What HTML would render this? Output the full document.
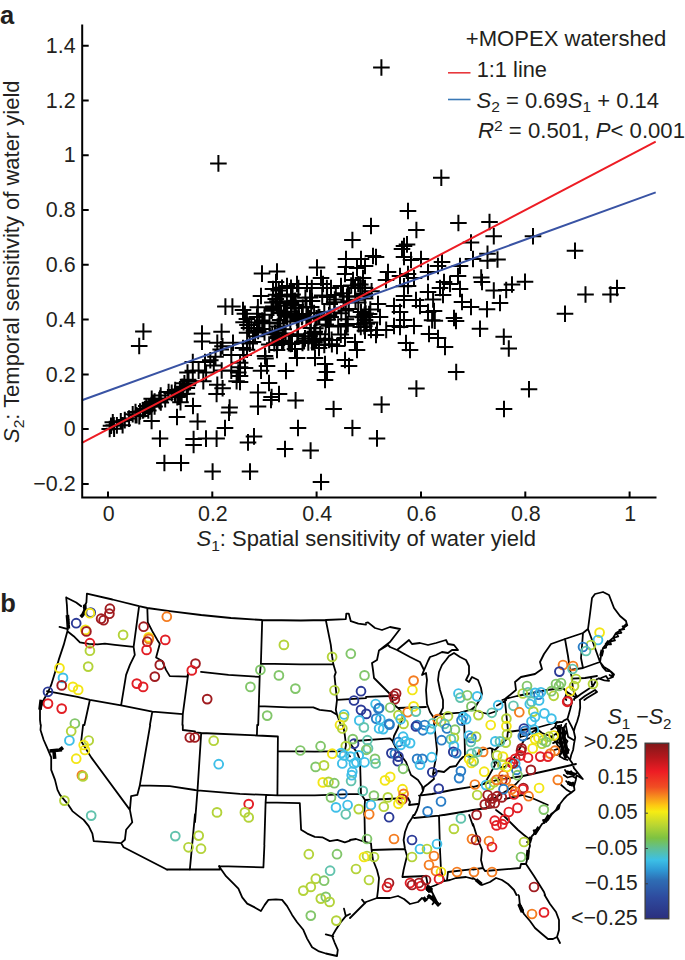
<!DOCTYPE html>
<html><head><meta charset="utf-8"><title>Figure</title>
<style>html,body{margin:0;padding:0;background:#fff}svg{display:block}text{font-family:"Liberation Sans",Arial,Helvetica,sans-serif;fill:#231f20}</style>
</head><body>
<svg width="685" height="960" viewBox="0 0 685 960">
<rect width="685" height="960" fill="#fff"/>
<text x="0" y="23.9" font-size="25.5" font-weight="bold">a</text>
<path d="M210.1 163.4h16.6M218.4 155.1v16.6M373.1 67.5h16.6M381.4 59.2v16.6M433.0 177.8h16.6M441.3 169.5v16.6M135.1 331.6h16.6M143.4 323.3v16.6M130.9 346.0h16.6M139.2 337.7v16.6M217.1 306.6h16.6M225.4 298.3v16.6M224.1 306.6h16.6M232.4 298.3v16.6M193.7 333.6h16.6M202.0 325.3v16.6M193.7 341.6h16.6M202.0 333.3v16.6M151.7 438.6h16.6M160.0 430.3v16.6M156.1 463.0h16.6M164.4 454.7v16.6M172.7 463.0h16.6M181.0 454.7v16.6M204.3 471.6h16.6M212.6 463.3v16.6M185.3 439.0h16.6M193.6 430.7v16.6M185.3 445.0h16.6M193.6 436.7v16.6M197.7 438.6h16.6M206.0 430.3v16.6M208.3 438.6h16.6M216.6 430.3v16.6M216.7 428.0h16.6M225.0 419.7v16.6M189.3 421.6h16.6M197.6 413.3v16.6M220.7 412.6h16.6M229.0 404.3v16.6M184.7 406.0h16.6M193.0 397.7v16.6M168.7 417.0h16.6M177.0 408.7v16.6M143.3 421.0h16.6M151.6 412.7v16.6M208.3 394.0h16.6M216.6 385.7v16.6M249.7 392.4h16.6M258.0 384.1v16.6M249.7 406.6h16.6M258.0 398.3v16.6M260.7 383.0h16.6M269.0 374.7v16.6M262.7 400.0h16.6M271.0 391.7v16.6M270.7 394.0h16.6M279.0 385.7v16.6M287.3 400.4h16.6M295.6 392.1v16.6M325.3 409.0h16.6M333.6 400.7v16.6M289.7 428.0h16.6M298.0 419.7v16.6M344.1 428.0h16.6M352.4 419.7v16.6M245.7 436.4h16.6M254.0 428.1v16.6M239.7 442.4h16.6M248.0 434.1v16.6M276.7 449.0h16.6M285.0 440.7v16.6M302.3 450.6h16.6M310.6 442.3v16.6M241.7 471.6h16.6M250.0 463.3v16.6M312.7 482.0h16.6M321.0 473.7v16.6M231.7 382.0h16.6M240.0 373.7v16.6M316.7 380.0h16.6M325.0 371.7v16.6M373.3 404.6h16.6M381.6 396.3v16.6M368.7 438.4h16.6M377.0 430.1v16.6M408.1 388.6h16.6M416.4 380.3v16.6M495.7 409.0h16.6M504.0 400.7v16.6M481.2 222.0h16.6M489.5 213.7v16.6M485.4 236.2h16.6M493.8 227.9v16.6M524.7 236.2h16.6M533.0 227.9v16.6M566.7 250.8h16.6M575.0 242.4v16.6M479.2 253.8h16.6M487.5 245.4v16.6M479.2 260.8h16.6M487.5 252.4v16.6M489.2 259.5h16.6M497.5 251.2v16.6M472.9 277.5h16.6M481.2 269.2v16.6M516.7 281.8h16.6M525.0 273.4v16.6M503.7 284.5h16.6M512.0 276.2v16.6M497.9 290.0h16.6M506.2 281.7v16.6M485.4 290.5h16.6M493.8 282.2v16.6M491.7 303.0h16.6M500.0 294.7v16.6M478.7 309.2h16.6M487.0 300.9v16.6M577.2 294.5h16.6M585.5 286.2v16.6M602.2 294.5h16.6M610.5 286.2v16.6M608.7 288.0h16.6M617.0 279.7v16.6M556.7 313.8h16.6M565.0 305.4v16.6M495.4 336.8h16.6M503.8 328.4v16.6M500.4 348.5h16.6M508.8 340.2v16.6M471.7 328.8h16.6M480.0 320.4v16.6M436.7 347.0h16.6M445.0 338.7v16.6M447.9 372.0h16.6M456.2 363.7v16.6M520.7 389.2h16.6M529.0 380.9v16.6M362.7 226.0h16.6M371.0 217.7v16.6M344.1 240.0h16.6M352.4 231.7v16.6M308.7 267.6h16.6M317.0 259.3v16.6M253.7 273.6h16.6M262.0 265.3v16.6M268.7 271.6h16.6M277.0 263.3v16.6M337.7 259.0h16.6M346.0 250.7v16.6M352.7 259.0h16.6M361.0 250.7v16.6M337.7 267.0h16.6M346.0 258.7v16.6M348.7 268.0h16.6M357.0 259.7v16.6M356.7 266.0h16.6M365.0 257.7v16.6M364.7 256.0h16.6M373.0 247.7v16.6M336.7 274.0h16.6M345.0 265.7v16.6M312.7 278.0h16.6M321.0 269.7v16.6M252.7 296.0h16.6M261.0 287.7v16.6M264.7 289.0h16.6M273.0 280.7v16.6M267.7 282.0h16.6M276.0 273.7v16.6M278.7 286.0h16.6M287.0 277.7v16.6M288.7 284.0h16.6M297.0 275.7v16.6M298.7 284.0h16.6M307.0 275.7v16.6M314.7 284.0h16.6M323.0 275.7v16.6M322.7 288.0h16.6M331.0 279.7v16.6M332.7 286.0h16.6M341.0 277.7v16.6M344.7 280.0h16.6M353.0 271.7v16.6M354.7 278.0h16.6M363.0 269.7v16.6M346.7 288.0h16.6M355.0 279.7v16.6M356.7 288.0h16.6M365.0 279.7v16.6M399.7 211.0h16.6M408.0 202.7v16.6M408.1 230.0h16.6M416.4 221.7v16.6M450.1 223.0h16.6M458.4 214.7v16.6M462.7 242.6h16.6M471.0 234.3v16.6M398.7 244.4h16.6M407.0 236.1v16.6M393.7 249.0h16.6M402.0 240.7v16.6M395.7 246.0h16.6M404.0 237.7v16.6M367.7 257.0h16.6M376.0 248.7v16.6M464.7 259.0h16.6M473.0 250.7v16.6M412.7 259.0h16.6M421.0 250.7v16.6M402.7 260.0h16.6M411.0 251.7v16.6M395.7 257.0h16.6M404.0 248.7v16.6M433.7 262.0h16.6M442.0 253.7v16.6M451.7 266.0h16.6M460.0 257.7v16.6M429.7 266.0h16.6M438.0 257.7v16.6M379.7 272.0h16.6M388.0 263.7v16.6M419.7 272.0h16.6M428.0 263.7v16.6M391.7 276.0h16.6M400.0 267.7v16.6M399.7 274.0h16.6M408.0 265.7v16.6M405.7 278.0h16.6M414.0 269.7v16.6M399.7 286.0h16.6M408.0 277.7v16.6M435.7 282.0h16.6M444.0 273.7v16.6M441.7 284.0h16.6M450.0 275.7v16.6M449.7 276.0h16.6M458.0 267.7v16.6M431.7 288.0h16.6M440.0 279.7v16.6M451.7 289.0h16.6M460.0 280.7v16.6M419.7 292.0h16.6M428.0 283.7v16.6M395.7 296.0h16.6M404.0 287.7v16.6M377.7 280.0h16.6M386.0 271.7v16.6M234.7 310.0h16.6M243.0 301.7v16.6M248.7 317.0h16.6M257.0 308.7v16.6M240.7 328.0h16.6M249.0 319.7v16.6M248.7 328.0h16.6M257.0 319.7v16.6M234.7 348.0h16.6M243.0 339.7v16.6M244.7 342.0h16.6M253.0 333.7v16.6M256.7 356.0h16.6M265.0 347.7v16.6M258.7 366.0h16.6M267.0 357.7v16.6M236.7 368.0h16.6M245.0 359.7v16.6M231.7 376.0h16.6M240.0 367.7v16.6M277.7 371.0h16.6M286.0 362.7v16.6M288.7 358.0h16.6M297.0 349.7v16.6M286.7 349.0h16.6M295.0 340.7v16.6M268.7 350.0h16.6M277.0 341.7v16.6M306.7 358.0h16.6M315.0 349.7v16.6M316.7 364.0h16.6M325.0 355.7v16.6M318.7 372.0h16.6M327.0 363.7v16.6M336.7 360.0h16.6M345.0 351.7v16.6M340.7 366.0h16.6M349.0 357.7v16.6M348.7 350.0h16.6M357.0 341.7v16.6M346.7 342.0h16.6M355.0 333.7v16.6M356.7 320.0h16.6M365.0 311.7v16.6M352.7 312.0h16.6M361.0 303.7v16.6M362.7 330.0h16.6M371.0 321.7v16.6M328.7 346.0h16.6M337.0 337.7v16.6M310.7 348.0h16.6M319.0 339.7v16.6M320.7 340.0h16.6M329.0 331.7v16.6M336.7 338.0h16.6M345.0 329.7v16.6M462.7 307.0h16.6M471.0 298.7v16.6M453.7 302.0h16.6M462.0 293.7v16.6M445.7 318.0h16.6M454.0 309.7v16.6M447.7 321.0h16.6M456.0 312.7v16.6M429.7 338.0h16.6M438.0 329.7v16.6M420.7 334.0h16.6M429.0 325.7v16.6M401.7 350.0h16.6M410.0 341.7v16.6M397.7 343.0h16.6M406.0 334.7v16.6M425.7 311.0h16.6M434.0 302.7v16.6M419.7 312.0h16.6M428.0 303.7v16.6M411.7 306.0h16.6M420.0 297.7v16.6M407.7 300.0h16.6M416.0 291.7v16.6M395.7 300.0h16.6M404.0 291.7v16.6M385.7 306.0h16.6M394.0 297.7v16.6M391.7 312.0h16.6M400.0 303.7v16.6M405.7 326.0h16.6M414.0 317.7v16.6M391.7 327.0h16.6M400.0 318.7v16.6M385.7 326.0h16.6M394.0 317.7v16.6M395.7 320.0h16.6M404.0 311.7v16.6M369.7 304.0h16.6M378.0 295.7v16.6M371.7 317.0h16.6M380.0 308.7v16.6M368.7 330.0h16.6M377.0 321.7v16.6M367.7 335.0h16.6M376.0 326.7v16.6M434.7 295.0h16.6M443.0 286.7v16.6M473.7 282.0h16.6M482.0 273.7v16.6M209.0 342.8h16.6M217.3 334.5v16.6M214.2 346.3h16.6M222.5 338.0v16.6M224.7 342.8h16.6M233.0 334.5v16.6M245.7 330.5h16.6M254.0 322.2v16.6M270.3 323.5h16.6M278.6 315.2v16.6M179.2 372.6h16.6M187.5 364.3v16.6M184.5 370.8h16.6M192.8 362.5v16.6M184.5 362.0h16.6M192.8 353.7v16.6M196.7 362.0h16.6M205.0 353.7v16.6M202.0 360.3h16.6M210.3 352.0v16.6M207.2 356.8h16.6M215.5 348.5v16.6M205.5 365.5h16.6M213.8 357.2v16.6M223.0 370.8h16.6M231.3 362.5v16.6M230.0 372.6h16.6M238.3 364.3v16.6M231.7 367.3h16.6M240.0 359.0v16.6M235.3 355.0h16.6M243.6 346.7v16.6M238.7 349.8h16.6M247.0 341.5v16.6M223.0 355.0h16.6M231.3 346.7v16.6M209.0 384.8h16.6M217.3 376.5v16.6M214.3 388.3h16.6M222.6 380.0v16.6M195.0 381.3h16.6M203.3 373.0v16.6M228.3 381.3h16.6M236.6 373.0v16.6M252.7 370.8h16.6M261.0 362.5v16.6M257.2 358.5h16.6M265.5 350.2v16.6M263.3 397.0h16.6M271.6 388.7v16.6M221.3 407.6h16.6M229.6 399.3v16.6M166.7 393.6h16.6M175.0 385.3v16.6M172.2 402.3h16.6M180.5 394.0v16.6M112.5 421.2h16.6M120.8 412.9v16.6M102.7 425.8h16.6M111.0 417.5v16.6M120.8 418.6h16.6M129.1 410.3v16.6M101.4 429.0h16.6M109.7 420.7v16.6M116.5 420.1h16.6M124.8 411.8v16.6M108.6 425.4h16.6M116.9 417.1v16.6M124.4 414.3h16.6M132.7 406.0v16.6M138.0 406.0h16.6M146.3 397.7v16.6M105.5 425.2h16.6M113.8 416.9v16.6M131.7 411.5h16.6M140.0 403.2v16.6M127.2 412.1h16.6M135.5 403.8v16.6M128.3 415.3h16.6M136.6 407.0v16.6M104.5 422.3h16.6M112.8 414.0v16.6M136.7 409.0h16.6M145.0 400.7v16.6M127.3 415.3h16.6M135.6 407.0v16.6M134.4 410.4h16.6M142.7 402.1v16.6M105.8 428.8h16.6M114.1 420.5v16.6M114.3 425.3h16.6M122.6 417.0v16.6M135.0 410.1h16.6M143.3 401.8v16.6M131.0 416.1h16.6M139.3 407.8v16.6M143.5 404.0h16.6M151.8 395.7v16.6M151.3 400.7h16.6M159.6 392.4v16.6M143.0 405.1h16.6M151.3 396.8v16.6M140.8 406.8h16.6M149.1 398.5v16.6M174.9 387.8h16.6M183.2 379.5v16.6M163.4 392.9h16.6M171.7 384.6v16.6M151.7 398.6h16.6M160.0 390.3v16.6M152.4 395.6h16.6M160.7 387.3v16.6M180.2 381.1h16.6M188.5 372.8v16.6M156.9 399.2h16.6M165.2 390.9v16.6M140.8 406.1h16.6M149.1 397.8v16.6M151.4 401.3h16.6M159.7 393.0v16.6M143.4 398.8h16.6M151.7 390.5v16.6M142.8 406.5h16.6M151.1 398.2v16.6M160.3 392.1h16.6M168.6 383.8v16.6M179.5 385.2h16.6M187.8 376.9v16.6M174.5 389.4h16.6M182.8 381.1v16.6M152.5 402.5h16.6M160.8 394.2v16.6M143.7 404.2h16.6M152.0 395.9v16.6M170.7 394.6h16.6M179.0 386.3v16.6M150.9 400.0h16.6M159.2 391.7v16.6M179.8 379.8h16.6M188.1 371.5v16.6M174.0 386.7h16.6M182.3 378.4v16.6M169.0 397.1h16.6M177.3 388.8v16.6M146.3 406.5h16.6M154.6 398.2v16.6M166.9 390.1h16.6M175.2 381.8v16.6M178.6 393.7h16.6M186.9 385.4v16.6M180.0 383.2h16.6M188.3 374.9v16.6M178.5 388.0h16.6M186.8 379.7v16.6M146.3 401.6h16.6M154.6 393.3v16.6M145.0 402.8h16.6M153.3 394.5v16.6M176.1 383.3h16.6M184.4 375.0v16.6M173.4 393.9h16.6M181.7 385.6v16.6M171.6 389.4h16.6M179.9 381.1v16.6M140.0 410.5h16.6M148.3 402.2v16.6M170.9 396.6h16.6M179.2 388.3v16.6M320.7 315.2h16.6M329.0 306.9v16.6M277.3 333.6h16.6M285.6 325.3v16.6M289.0 334.2h16.6M297.3 325.9v16.6M337.5 310.4h16.6M345.8 302.1v16.6M294.2 342.9h16.6M302.5 334.6v16.6M318.8 297.0h16.6M327.1 288.7v16.6M273.4 295.9h16.6M281.7 287.6v16.6M332.5 334.6h16.6M340.8 326.3v16.6M274.8 335.8h16.6M283.1 327.5v16.6M338.2 325.8h16.6M346.5 317.5v16.6M290.3 319.4h16.6M298.6 311.1v16.6M273.7 287.8h16.6M282.0 279.5v16.6M337.5 325.3h16.6M345.8 317.0v16.6M303.7 342.1h16.6M312.0 333.8v16.6M296.7 338.4h16.6M305.0 330.1v16.6M326.5 299.5h16.6M334.8 291.2v16.6M282.8 304.3h16.6M291.1 296.0v16.6M282.0 321.6h16.6M290.3 313.3v16.6M283.4 311.7h16.6M291.7 303.4v16.6M273.7 340.7h16.6M282.0 332.4v16.6M290.6 314.0h16.6M298.9 305.7v16.6M308.0 340.4h16.6M316.3 332.1v16.6M295.7 341.1h16.6M304.0 332.8v16.6M301.8 318.4h16.6M310.1 310.1v16.6M303.5 288.1h16.6M311.8 279.8v16.6M297.1 297.8h16.6M305.4 289.5v16.6M264.0 334.2h16.6M272.3 325.9v16.6M276.8 314.9h16.6M285.1 306.6v16.6M318.8 319.8h16.6M327.1 311.5v16.6M288.5 317.6h16.6M296.8 309.3v16.6M305.9 333.3h16.6M314.2 325.0v16.6M271.8 320.1h16.6M280.1 311.8v16.6M282.6 303.3h16.6M290.9 295.0v16.6M322.4 317.0h16.6M330.7 308.7v16.6M306.4 331.8h16.6M314.7 323.5v16.6M333.0 313.2h16.6M341.3 304.9v16.6M310.3 316.8h16.6M318.6 308.5v16.6M302.6 327.9h16.6M310.9 319.6v16.6M298.1 318.5h16.6M306.4 310.2v16.6M300.0 342.5h16.6M308.3 334.2v16.6M316.8 338.7h16.6M325.1 330.4v16.6M335.3 302.3h16.6M343.6 294.0v16.6M306.2 342.7h16.6M314.5 334.4v16.6M327.5 295.1h16.6M335.8 286.8v16.6M272.9 313.1h16.6M281.2 304.8v16.6M269.2 301.2h16.6M277.5 292.9v16.6M269.3 326.5h16.6M277.6 318.2v16.6M323.3 339.9h16.6M331.6 331.6v16.6M275.4 329.3h16.6M283.7 321.0v16.6M313.9 295.4h16.6M322.2 287.1v16.6M280.4 343.2h16.6M288.7 334.9v16.6M294.0 315.7h16.6M302.3 307.4v16.6M276.0 312.5h16.6M284.3 304.2v16.6M302.9 307.0h16.6M311.2 298.7v16.6M278.6 305.8h16.6M286.9 297.5v16.6M318.6 288.1h16.6M326.9 279.8v16.6M305.8 313.0h16.6M314.1 304.7v16.6M265.1 306.6h16.6M273.4 298.3v16.6M311.1 317.2h16.6M319.4 308.9v16.6M268.6 345.1h16.6M276.9 336.8v16.6M323.6 344.3h16.6M331.9 336.0v16.6M271.7 302.7h16.6M280.0 294.4v16.6M266.7 333.0h16.6M275.0 324.7v16.6M284.3 294.6h16.6M292.6 286.3v16.6M295.8 340.8h16.6M304.1 332.5v16.6M325.9 302.3h16.6M334.2 294.0v16.6M275.1 341.2h16.6M283.4 332.9v16.6M307.1 328.3h16.6M315.4 320.0v16.6M270.5 290.4h16.6M278.8 282.1v16.6M316.0 312.1h16.6M324.3 303.8v16.6M269.2 342.4h16.6M277.5 334.1v16.6M311.9 334.3h16.6M320.2 326.0v16.6M270.1 337.5h16.6M278.4 329.2v16.6M268.8 337.9h16.6M277.1 329.6v16.6M298.2 307.0h16.6M306.5 298.7v16.6M305.7 341.7h16.6M314.0 333.4v16.6M284.1 294.6h16.6M292.4 286.3v16.6M303.7 301.1h16.6M312.0 292.8v16.6M272.0 296.5h16.6M280.3 288.2v16.6M267.5 298.9h16.6M275.8 290.6v16.6M287.4 305.0h16.6M295.7 296.7v16.6M321.4 304.1h16.6M329.7 295.8v16.6M301.7 297.5h16.6M310.0 289.2v16.6M290.1 288.1h16.6M298.4 279.8v16.6M282.7 287.9h16.6M291.0 279.6v16.6M319.4 319.5h16.6M327.7 311.2v16.6M278.1 315.0h16.6M286.4 306.7v16.6M334.7 293.3h16.6M343.0 285.0v16.6M325.9 312.5h16.6M334.2 304.2v16.6M301.3 336.2h16.6M309.6 327.9v16.6M293.6 316.9h16.6M301.9 308.6v16.6M316.0 345.0h16.6M324.3 336.7v16.6M289.7 336.1h16.6M298.0 327.8v16.6M317.4 324.5h16.6M325.7 316.2v16.6M294.5 307.5h16.6M302.8 299.2v16.6M267.8 294.7h16.6M276.1 286.4v16.6M269.1 330.7h16.6M277.4 322.4v16.6M283.1 296.6h16.6M291.4 288.3v16.6M270.1 336.6h16.6M278.4 328.3v16.6M329.9 326.6h16.6M338.2 318.3v16.6M285.1 301.3h16.6M293.4 293.0v16.6M286.0 314.1h16.6M294.3 305.8v16.6M275.7 313.3h16.6M284.0 305.0v16.6M283.7 343.7h16.6M292.0 335.4v16.6M337.6 319.3h16.6M345.9 311.0v16.6M282.3 344.0h16.6M290.6 335.7v16.6M287.2 308.0h16.6M295.5 299.7v16.6M263.8 309.5h16.6M272.1 301.2v16.6M299.8 316.7h16.6M308.1 308.4v16.6M279.0 316.8h16.6M287.3 308.5v16.6M264.1 302.6h16.6M272.4 294.3v16.6M270.5 310.6h16.6M278.8 302.3v16.6M286.8 300.7h16.6M295.1 292.4v16.6M308.2 318.2h16.6M316.5 309.9v16.6M320.7 325.8h16.6M329.0 317.5v16.6M356.0 326.2h16.6M364.3 317.9v16.6M347.2 299.7h16.6M355.5 291.4v16.6M363.3 291.2h16.6M371.6 282.9v16.6M356.3 314.9h16.6M364.6 306.6v16.6M337.9 324.1h16.6M346.2 315.8v16.6M360.8 314.1h16.6M369.1 305.8v16.6M356.5 323.0h16.6M364.8 314.7v16.6M340.5 309.1h16.6M348.8 300.8v16.6M350.3 324.1h16.6M358.6 315.8v16.6M358.4 323.7h16.6M366.7 315.4v16.6M352.5 326.9h16.6M360.8 318.6v16.6M355.1 317.3h16.6M363.4 309.0v16.6M342.9 285.5h16.6M351.2 277.2v16.6M340.3 301.3h16.6M348.6 293.0v16.6M339.5 324.1h16.6M347.8 315.8v16.6M353.6 316.7h16.6M361.9 308.4v16.6M349.9 284.2h16.6M358.2 275.9v16.6M356.6 296.1h16.6M364.9 287.8v16.6M338.7 296.7h16.6M347.0 288.4v16.6M356.4 293.9h16.6M364.7 285.6v16.6M356.7 330.8h16.6M365.0 322.5v16.6M350.0 302.4h16.6M358.3 294.1v16.6M349.6 316.8h16.6M357.9 308.5v16.6M357.4 313.6h16.6M365.7 305.3v16.6M354.1 287.7h16.6M362.4 279.4v16.6M340.7 296.2h16.6M349.0 287.9v16.6M356.8 298.6h16.6M365.1 290.3v16.6M352.0 284.6h16.6M360.3 276.3v16.6M236.6 313.8h16.6M244.9 305.5v16.6M256.2 332.5h16.6M264.5 324.2v16.6M256.3 314.8h16.6M264.6 306.5v16.6M251.2 322.4h16.6M259.5 314.1v16.6M249.6 307.2h16.6M257.9 298.9v16.6M263.3 310.8h16.6M271.6 302.5v16.6M266.0 343.2h16.6M274.3 334.9v16.6M235.3 322.2h16.6M243.6 313.9v16.6M260.9 344.6h16.6M269.2 336.3v16.6M249.1 313.8h16.6M257.4 305.5v16.6M241.4 343.6h16.6M249.7 335.3v16.6M239.2 325.1h16.6M247.5 316.8v16.6M265.2 307.8h16.6M273.5 299.5v16.6M423.8 320.2h16.6M432.1 311.9v16.6M377.9 329.9h16.6M386.2 321.6v16.6M395.7 286.2h16.6M404.0 277.9v16.6M362.0 309.6h16.6M370.3 301.3v16.6M361.8 322.5h16.6M370.1 314.2v16.6M426.5 320.7h16.6M434.8 312.4v16.6M424.8 299.5h16.6M433.1 291.2v16.6M213.3 331.7h16.6M221.6 323.4v16.6M231.8 362.7h16.6M240.1 354.4v16.6M212.4 349.4h16.6M220.7 341.1v16.6M190.3 370.6h16.6M198.6 362.3v16.6M261.2 322.6h16.6M269.5 314.3v16.6M197.8 372.6h16.6M206.1 364.3v16.6M213.4 370.5h16.6M221.7 362.2v16.6M246.8 336.3h16.6M255.1 328.0v16.6M254.3 329.0h16.6M262.6 320.7v16.6M249.8 330.9h16.6M258.1 322.6v16.6M238.6 319.0h16.6M246.9 310.7v16.6M253.9 320.5h16.6M262.2 312.2v16.6M243.0 324.9h16.6M251.3 316.6v16.6M238.8 332.8h16.6M247.1 324.5v16.6M255.1 323.2h16.6M263.4 314.9v16.6" stroke="#000" stroke-width="2" fill="none"/>
<line x1="81.9" y1="400.3" x2="655.7" y2="192.4" stroke="#3953a4" stroke-width="2"/>
<line x1="81.9" y1="442.8" x2="655.7" y2="141.6" stroke="#ed1c24" stroke-width="2"/>
<path d="M82.2 24.5V497.4H656.5M82.2 483.9h6.5M82.2 429.1h6.5M82.2 374.4h6.5M82.2 319.6h6.5M82.2 264.8h6.5M82.2 210.0h6.5M82.2 155.2h6.5M82.2 100.5h6.5M82.2 45.7h6.5M108.0 497.4v-6M212.3 497.4v-6M316.6 497.4v-6M421.0 497.4v-6M525.3 497.4v-6M629.6 497.4v-6" stroke="#000" stroke-width="2" fill="none"/>
<text x="75.6" y="491.0" font-size="21.2" text-anchor="end" textLength="42.4" lengthAdjust="spacingAndGlyphs">−0.2</text>
<text x="75.6" y="436.2" font-size="21.2" text-anchor="end" textLength="11.9" lengthAdjust="spacingAndGlyphs">0</text>
<text x="75.6" y="381.5" font-size="21.2" text-anchor="end" textLength="29.8" lengthAdjust="spacingAndGlyphs">0.2</text>
<text x="75.6" y="326.7" font-size="21.2" text-anchor="end" textLength="29.8" lengthAdjust="spacingAndGlyphs">0.4</text>
<text x="75.6" y="271.9" font-size="21.2" text-anchor="end" textLength="29.8" lengthAdjust="spacingAndGlyphs">0.6</text>
<text x="75.6" y="217.1" font-size="21.2" text-anchor="end" textLength="29.8" lengthAdjust="spacingAndGlyphs">0.8</text>
<text x="75.6" y="162.3" font-size="21.2" text-anchor="end" textLength="11.9" lengthAdjust="spacingAndGlyphs">1</text>
<text x="75.6" y="107.6" font-size="21.2" text-anchor="end" textLength="29.8" lengthAdjust="spacingAndGlyphs">1.2</text>
<text x="75.6" y="52.8" font-size="21.2" text-anchor="end" textLength="29.8" lengthAdjust="spacingAndGlyphs">1.4</text>
<text x="108.6" y="521" font-size="21.2" text-anchor="middle" textLength="11.9" lengthAdjust="spacingAndGlyphs">0</text>
<text x="212.9" y="521" font-size="21.2" text-anchor="middle" textLength="29.8" lengthAdjust="spacingAndGlyphs">0.2</text>
<text x="317.2" y="521" font-size="21.2" text-anchor="middle" textLength="29.8" lengthAdjust="spacingAndGlyphs">0.4</text>
<text x="421.6" y="521" font-size="21.2" text-anchor="middle" textLength="29.8" lengthAdjust="spacingAndGlyphs">0.6</text>
<text x="525.9" y="521" font-size="21.2" text-anchor="middle" textLength="29.8" lengthAdjust="spacingAndGlyphs">0.8</text>
<text x="630.2" y="521" font-size="21.2" text-anchor="middle" textLength="11.9" lengthAdjust="spacingAndGlyphs">1</text>
<text x="196.5" y="546.3" font-size="21.2" textLength="339.5" lengthAdjust="spacingAndGlyphs"><tspan font-style="italic">S</tspan><tspan font-size="15" dy="4.8">1</tspan><tspan dy="-4.8">: Spatial sensitivity of water yield</tspan></text>
<text transform="translate(18.7 443) rotate(-90)" font-size="21.2" textLength="362.5" lengthAdjust="spacingAndGlyphs"><tspan font-style="italic">S</tspan><tspan font-size="15" dy="4.8">2</tspan><tspan dy="-4.8">: Temporal sensitivity of water yield</tspan></text>
<text x="465.8" y="46.3" font-size="21.2" textLength="200.5" lengthAdjust="spacingAndGlyphs">+MOPEX watershed</text>
<line x1="448" y1="72.8" x2="470.5" y2="72.8" stroke="#e8383d" stroke-width="1.6"/>
<text x="476.7" y="77.2" font-size="21.2" textLength="70.3" lengthAdjust="spacingAndGlyphs">1:1 line</text>
<line x1="448" y1="99.5" x2="470.5" y2="99.5" stroke="#3a78b6" stroke-width="1.6"/>
<text x="476.5" y="107.6" font-size="21.2" textLength="182.5" lengthAdjust="spacingAndGlyphs"><tspan font-style="italic">S</tspan><tspan font-size="15" dy="4.8">2</tspan><tspan dy="-4.8"> = 0.69</tspan><tspan font-style="italic">S</tspan><tspan font-size="15" dy="4.8">1</tspan><tspan dy="-4.8"> + 0.14</tspan></text>
<text x="478" y="138" font-size="21.2" textLength="207" lengthAdjust="spacingAndGlyphs"><tspan font-style="italic">R</tspan><tspan font-size="15" dy="-7.5">2</tspan><tspan dy="7.5"> = 0.501, </tspan><tspan font-style="italic">P</tspan>&lt; 0.001</text>
<text x="0.3" y="612" font-size="25.5" font-weight="bold">b</text>
<path d="M86.9 593.7L112.4 599.5L139.1 606.2L147.3 608.0L169.8 611.2L201.0 615.0M86.9 593.7L86.4 602.5L83.7 607.5M66.2 597.5L76.2 602.5L81.2 606.2M66.2 597.5L66.9 605.0L67.4 615.0L68.2 624.9L67.4 631.2L63.7 644.9L58.7 659.9L55.0 672.4L51.2 684.9L48.0 692.3L43.7 699.8L40.0 709.8L40.0 719.8L40.6 725.0M59.5 626.9L67.9 629.2M67.4 631.2L73.7 636.2L79.9 642.4L88.7 643.9L97.4 644.4L104.9 643.7L114.9 644.9L133.6 646.9M139.1 606.2L133.6 646.9L134.8 654.9L129.9 664.9L126.1 674.9L121.1 705.3M147.3 608.0L147.8 622.5L152.3 631.2L157.3 639.9L159.8 643.7L156.1 657.4L162.3 661.1L166.0 669.9L169.8 676.1L187.3 676.6L188.3 673.1M188.3 673.1L182.8 714.1L182.4 725.0M47.0 691.1L77.4 696.8L89.9 699.8L121.1 705.3L152.3 711.6L182.8 714.1M89.9 699.8L84.4 725.0M152.3 711.6L149.9 725.0M201.0 615.0L231.0 618.0L262.2 620.0L300.9 620.5L325.8 620.0L345.8 619.2L346.3 613.7L348.8 613.7L350.8 621.2L358.3 623.7L366.0 624.7M262.2 620.0L260.9 663.6L259.7 676.1L258.2 725.0M201.0 671.9L228.5 674.9L259.7 676.9M260.9 663.6L300.9 664.4L333.3 664.1M325.8 620.0L328.3 632.4L330.8 644.9L332.1 656.2L333.3 664.1L335.8 672.4L334.5 676.1L337.0 699.8M258.9 706.1L288.4 707.3L313.3 707.3L319.6 709.8L330.8 711.1L337.0 714.8M337.0 699.8L366.0 698.2M337.0 699.8L335.8 709.8L337.0 714.8L340.8 724.8L340.9 725.0M366.0 622.8L368.0 622.4L375.0 628.0L382.0 630.0L390.0 627.0L400.0 629.0L390.0 642.0L379.0 650.4M379.0 650.4L388.0 645.0L390.0 647.0L397.0 650.0L403.0 645.0L409.0 640.0L412.0 644.0L420.0 643.0L428.0 645.0L436.0 643.0L446.0 640.0L448.0 644.0L454.0 645.0L458.0 650.0L452.0 650.0L448.0 653.0L442.0 652.0L436.0 655.0L430.0 657.0L428.0 661.0L425.0 668.0L422.0 675.0L426.0 673.0L427.0 680.0L426.0 690.0L427.0 704.0L430.0 712.0L434.0 718.0L440.0 714.0L443.0 708.0L443.0 700.0L440.0 690.0L438.0 680.0L439.0 672.0L442.0 665.0L446.0 660.0L449.0 656.0L454.0 653.0L460.0 657.0L466.0 660.0L469.0 666.0L469.0 674.0L466.0 680.0L469.0 682.0L472.0 677.0L478.0 680.0L481.0 688.0L482.0 694.0L480.0 699.0L476.0 706.0L472.0 709.0L480.0 712.0L488.0 714.0L497.0 711.0M397.0 650.0L410.0 657.0L420.0 662.0L424.0 670.0L422.0 675.0M379.0 650.4L377.0 660.0L372.0 663.0L373.0 670.0L374.0 678.0L380.0 684.0L386.0 690.0L392.0 696.0L393.0 704.0L398.0 708.0L403.0 714.0L402.0 720.0L399.5 725.0M398.0 708.0L426.0 707.0M366.0 696.8L390.0 696.0M434.0 718.0L434.1 725.0M440.0 714.4L460.0 712.6L472.0 709.4M462.0 713.0L462.4 725.0M502.3 700.0L505.0 699.0L516.0 690.0L515.0 682.0L521.0 677.0L535.0 674.0L542.0 669.0L540.0 662.0L544.0 654.0L551.0 644.0L565.0 639.0L583.0 633.0L588.0 629.0L590.0 614.0L592.0 598.0L595.0 594.0L603.0 592.0L609.0 595.0L614.0 608.0L620.0 616.0L626.0 621.0L627.0 625.0L621.0 630.0L616.0 633.0L613.0 638.0L607.0 643.0L603.0 648.0L601.0 656.0L600.0 662.0L604.0 667.0L609.0 670.0L612.0 673.0L613.0 677.0L608.0 679.0L606.0 676.0L601.0 678.0L597.0 679.0L593.0 686.0L587.0 690.0L581.0 694.0L577.0 697.0M579.7 700.0L585.0 696.0L595.0 690.0L597.0 692.0L587.0 698.0L584.3 700.0M577.0 697.0L574.0 699.0L574.1 700.0M565.0 639.0L568.0 656.0L570.0 670.0L572.0 678.0L573.0 690.0L577.0 697.0M583.0 633.0L582.0 646.0L581.0 658.0L583.0 668.0M588.0 629.0L595.0 648.0L600.0 662.0M570.0 670.0L583.0 668.0L597.0 663.0L600.0 662.0M572.0 678.6L585.0 678.0L597.0 676.0M591.0 677.0L592.0 685.0M509.0 698.0L517.0 696.0L547.0 690.0L563.0 688.0L567.0 692.0L565.0 698.0L566.3 700.0M567.0 692.0L575.0 697.0M505.0 699.0L509.0 698.0M505.0 699.0L505.1 700.0M40.9 725.0L40.5 730.0L43.7 740.0L47.5 748.7L51.2 757.4L51.2 769.9L55.0 779.9L57.5 789.9L60.0 794.9L67.4 803.6L72.4 811.1L78.7 816.1L83.7 819.9L88.7 826.1L92.4 833.6L93.7 841.1L121.1 843.1M83.1 725.0L81.2 741.2L91.2 757.4L129.9 809.9M139.8 785.4L137.3 794.9L131.1 796.1L129.9 809.9L132.3 822.3L126.1 829.8L124.9 839.8L121.1 843.1M150.2 725.0L139.8 785.4M139.8 785.4L169.8 786.2L195.0 790.0M121.1 843.1L123.6 847.3L167.3 869.8M195.0 814.2L189.8 869.8M182.8 725.0L182.8 730.0L195.0 731.3M195.0 732.4L201.2 733.0L257.4 735.5L277.9 736.5M257.2 725.0L256.9 735.5M201.2 733.0L197.5 790.4M277.9 736.5L277.4 795.4M277.9 751.2L314.8 751.7L344.8 751.2M195.0 790.2L197.5 790.4L239.9 793.9L277.4 795.4L314.8 795.4L350.0 794.2M266.1 795.4L265.6 802.4L299.8 803.1L301.1 829.8L307.3 833.6L314.8 836.8L322.3 837.3L329.8 841.1L337.3 839.8L344.8 842.3L350.0 840.6M265.6 802.4L264.3 845.0M197.5 790.4L195.0 822.1M343.1 725.0L344.8 735.0L346.0 745.0L344.8 751.2L349.8 756.2L350.0 756.4M355.0 741.0L390.0 738.4L393.6 742.0M398.8 725.0L398.0 728.0L394.0 736.0L393.0 742.0L396.0 748.0L400.0 754.0L406.0 762.0L409.0 770.0L411.0 775.0L418.0 780.0L422.0 786.0L423.0 791.0L420.0 796.0L419.0 804.0L417.0 810.0L414.5 815.0M434.3 725.0L437.0 750.0L436.0 758.0L434.0 768.0L433.0 774.0M423.0 791.0L424.0 787.0L428.0 784.0L434.0 779.0L433.0 774.0L438.0 771.0L444.0 772.0L450.0 767.0L456.0 766.0L460.0 760.0L463.0 757.0L468.0 755.0L472.0 758.0M464.3 725.0L465.0 756.0M365.0 800.0L408.0 798.0L410.0 802.0L409.0 805.0L417.6 804.0M350.0 742.7L352.0 746.0L357.0 752.4L360.0 760.0L361.0 794.0L365.0 800.0L364.2 815.0M350.0 794.2L361.0 794.0M419.0 795.6L432.0 794.0L452.0 790.0L473.0 786.6M444.0 815.0L468.0 811.0L473.0 809.9M497.0 705.5L498.0 705.0L505.0 701.0L506.2 700.0M505.0 701.0L508.0 731.0M508.0 732.0L536.0 728.0L554.0 723.0L560.0 722.0M473.0 787.1L496.0 780.4L497.0 780.2M497.0 780.2L523.0 776.0L550.0 770.0L576.0 764.0M473.0 757.2L482.0 750.0L490.0 748.0L495.0 750.0L497.0 748.0M497.0 748.0L500.0 745.0L507.0 739.0L508.0 731.0M492.0 748.6L492.4 757.0L495.0 765.0L490.0 774.0L485.0 783.0M492.4 757.0L497.0 763.1M497.0 763.1L500.0 767.0L505.0 767.0L510.0 762.0L516.0 756.0L520.0 748.0L524.0 740.0L530.0 738.0L536.0 733.0L537.0 729.0M537.0 729.0L542.0 733.0L550.0 736.0L556.0 742.0L560.0 750.0M520.0 731.0L520.4 737.0L528.0 735.0L537.0 729.0M497.0 796.6L488.0 802.0M523.0 776.0L516.0 784.0L508.0 790.0L498.0 796.0L497.0 796.6M505.0 799.0L522.0 795.0L532.0 798.0L547.8 805.0M219.0 866.2L263.4 867.4L264.4 845.0M219.0 866.2L226.0 876.2L233.5 883.7L238.4 888.6L242.2 897.4L247.2 903.6L254.7 907.4L260.9 911.1L264.7 904.9L268.4 899.9L275.9 899.4L282.1 899.9L287.1 906.1L292.1 914.9L297.1 922.3L303.3 929.8L307.1 938.6L312.1 947.3L318.3 951.1L325.8 953.5L337.0 956.0L337.8 949.8L334.5 942.3L332.1 936.1L335.8 929.8L340.8 922.3L345.8 916.1L350.0 914.0M325.8 934.3L333.3 936.3M344.0 908.6L345.8 916.1M364.5 815.0L365.0 842.0M350.0 840.0L356.0 839.0L365.0 842.0L371.0 843.4L371.6 850.0L373.0 860.0L377.0 870.0L379.0 878.0L378.0 890.0L377.0 898.0M371.6 850.0L404.4 849.0M413.5 815.0L412.0 818.0L408.0 824.0L405.0 832.0L403.6 840.0L405.0 849.0L407.0 856.0L405.0 864.0L403.6 870.0L402.4 877.0L426.0 876.0L427.0 881.0L428.0 888.0M414.0 818.0L439.0 815.6L443.4 815.0M439.0 815.6L440.0 850.0L441.0 870.0L444.0 880.0M469.2 815.0L473.0 825.8M447.0 880.0L448.0 872.0L473.0 869.1M350.0 918.0L356.0 912.0L362.0 906.0L366.0 902.0L377.0 898.0L390.0 898.0L398.0 896.0L404.0 899.0L410.0 904.0L418.0 902.0L422.0 898.0L426.0 900.0L430.0 896.0L434.0 900.0L438.0 904.0L435.0 898.0L432.0 892.0L428.0 888.0L436.0 885.0L444.0 881.0L450.0 880.0L456.0 878.0L466.0 877.0L473.0 878.8M362.0 899.6L365.0 903.4M473.0 823.8L478.0 840.0L482.0 850.0L481.0 860.0L483.0 868.0L485.0 871.0M473.0 810.0L494.0 807.0M496.0 810.0L504.0 816.0L512.0 824.0L518.0 830.0L524.0 835.0L529.0 839.0M558.7 805.0L558.0 806.0L556.0 810.0L552.0 814.0L548.0 820.0L542.0 824.0L538.0 830.0L532.0 836.0L529.0 840.0L530.0 846.0L528.0 852.0L527.0 860.0L526.0 864.0L530.0 870.0L534.0 876.0L539.0 884.0L544.0 892.0L545.1 895.0M485.0 871.0L520.0 868.0L521.0 864.0L526.0 864.0M473.0 878.0L476.0 880.0L482.0 885.0L490.0 882.0L496.0 878.0L502.0 880.0L508.0 884.0L514.0 890.0L516.5 895.0M473.0 869.5L483.0 868.0M544.6 895.0L550.0 904.0L556.0 912.0L559.0 920.0L559.0 930.0L557.0 937.0L560.0 943.0M518.3 895.0L519.0 896.0L520.0 906.0L524.0 914.0L530.0 921.0L535.0 928.0L542.0 934.0L548.0 939.0L553.0 939.0L557.0 937.0M556.9 721.9L555.0 726.9L558.8 730.0L556.2 733.8L560.0 737.5L556.9 741.2L561.2 745.0L558.1 748.8L561.9 752.5L559.4 756.2L563.8 758.8L567.5 760.0M566.2 723.8L563.1 728.8L566.2 732.5L563.8 737.5L567.5 741.2L565.0 746.2L568.8 750.0L566.2 755.0L570.0 760.0M561.2 725.0L560.0 731.2L563.1 735.0L561.2 741.2L565.0 743.8L563.1 750.0L566.9 753.8L565.6 758.1M555.0 726.9L551.2 729.4M556.2 733.8L551.9 736.2M556.9 741.2L553.1 743.1M558.1 748.8L554.4 750.0M561.9 752.5L556.9 755.0M573.8 731.2L575.2 737.5L574.0 743.8L573.1 750.0L571.2 755.0L570.0 760.0M580.0 700.0L580.2 707.5L579.0 715.0L577.2 721.2L575.0 726.9L573.8 731.2L571.2 725.6L567.5 718.8L570.0 710.0L571.9 702.5M567.5 718.8L563.8 720.6L561.9 722.2L556.9 721.9M565.6 724.4L568.1 736.9L574.0 740.2M570.0 760.0L572.2 763.1L574.0 768.1L582.8 779.0L576.5 775.2L575.8 780.0L574.0 786.2L574.5 790.0L571.2 792.8L567.5 795.2L563.8 799.0L560.0 804.0L558.8 808.8L555.0 811.2L551.2 814.0L548.8 817.5L546.2 820.0M565.0 770.0L567.5 773.8L571.2 771.2L573.8 775.0L576.9 773.1M563.8 775.0L567.5 777.5L572.5 776.2L575.6 778.1M566.2 781.2L570.0 785.0L573.1 782.5L573.8 786.9M561.2 785.0L566.2 789.4L571.2 792.5M219.3 866.0L220.0 869.5L166.5 869.5M600.3 662.2L602.6 666.9L606.1 670.9L610.8 671.3L614.0 674.5L612.6 677.1L609.6 675.0M598.5 678.5L604.4 680.3L609.1 680.9M432.5 904.3L435.0 900.9L437.9 905.9L440.4 903.3M547.0 819.0L543.0 820.0L544.4 823.0M537.6 830.0L533.6 830.4L535.2 834.0M530.0 841.0L527.0 842.0L529.2 844.4M626.6 625.6L622.6 626.4L624.2 629.2L619.4 630.0L621.4 632.8L616.6 633.6L618.2 636.4L613.4 638.0L615.0 640.4L610.2 641.6L611.0 644.4L606.6 644.0L606.0 647.6L603.0 648.4" fill="none" stroke="#000" stroke-width="1.8" stroke-linejoin="round" stroke-linecap="round"/>
<path d="M558.1 725.0L559.4 732.5L560.6 741.2L562.8 750.0L566.2 758.1M562.8 726.9L563.8 736.2L565.6 745.0L567.5 753.8M566.2 771.9L575.0 774.4M567.5 782.5L573.1 785.0M49.5 751.0L62.0 749.7M54.0 751.0L54.7 758.9M60.0 749.7L63.0 747.5M84.7 604.6L85.0 610.4L82.8 614.8L80.7 617.0M67.8 619.9L68.4 628.7M427.7 895.1L432.8 899.2L438.6 904.7M431.3 896.0L434.5 901.4M423.3 897.4L426.2 901.4M549.0 815.0L545.0 822.0M539.0 827.0L534.4 834.4M531.0 837.0L529.2 843.0M528.2 850.0L527.2 859.6M476.0 879.6L481.6 884.4M519.0 904.0L522.4 912.0M625.0 624.0L627.0 626.4M609.0 641.0L606.0 645.0M602.4 650.0L601.0 656.0M67.4 615.0L68.2 624.9M41.2 699.8L40.0 709.8" fill="none" stroke="#000" stroke-width="3.6" stroke-linejoin="round" stroke-linecap="butt"/>
<path d="M425.6 887.0L429.0 885.6L432.4 888.4L432.0 892.0L428.4 892.4L426.0 890.0ZM518.6 904.0L521.0 905.0L523.6 910.0L522.4 913.0L520.0 909.0Z" fill="#000" stroke="#000" stroke-width="0.8"/>
<g fill="none" stroke-width="1.9"><circle cx="361.0" cy="691.2" r="4.4" stroke="#2b3a97"/><circle cx="354.0" cy="700.5" r="4.4" stroke="#2b3a97"/><circle cx="361.0" cy="709.9" r="4.4" stroke="#2b3a97"/><circle cx="366.3" cy="713.9" r="4.4" stroke="#2b3a97"/><circle cx="393.7" cy="695.8" r="4.4" stroke="#a01c20"/><circle cx="396.1" cy="693.5" r="4.4" stroke="#a01c20"/><circle cx="394.9" cy="699.3" r="4.4" stroke="#a01c20"/><circle cx="412.4" cy="690.0" r="4.4" stroke="#f3e616"/><circle cx="375.6" cy="704.0" r="4.4" stroke="#3fbfe8"/><circle cx="378.5" cy="708.7" r="4.4" stroke="#2a7dc6"/><circle cx="379.2" cy="708.0" r="4.4" stroke="#2a7dc6"/><circle cx="390.2" cy="707.5" r="4.4" stroke="#82c66a"/><circle cx="407.7" cy="712.2" r="4.4" stroke="#f47c20"/><circle cx="413.6" cy="706.4" r="4.4" stroke="#f3e616"/><circle cx="415.9" cy="711.6" r="4.4" stroke="#62c3ad"/><circle cx="398.4" cy="715.1" r="4.4" stroke="#b4d33a"/><circle cx="403.6" cy="723.9" r="4.4" stroke="#b4d33a"/><circle cx="344.1" cy="714.5" r="4.4" stroke="#3fbfe8"/><circle cx="343.5" cy="717.1" r="4.4" stroke="#b4d33a"/><circle cx="359.3" cy="720.4" r="4.4" stroke="#3fbfe8"/><circle cx="363.9" cy="727.4" r="4.4" stroke="#62c3ad"/><circle cx="376.2" cy="718.6" r="4.4" stroke="#2a7dc6"/><circle cx="380.3" cy="719.2" r="4.4" stroke="#3fbfe8"/><circle cx="379.1" cy="728.5" r="4.4" stroke="#3fbfe8"/><circle cx="383.2" cy="729.1" r="4.4" stroke="#3fbfe8"/><circle cx="389.1" cy="723.9" r="4.4" stroke="#2a7dc6"/><circle cx="389.5" cy="724.6" r="4.4" stroke="#2a7dc6"/><circle cx="417.1" cy="725.0" r="4.4" stroke="#2a7dc6"/><circle cx="415.9" cy="726.4" r="4.4" stroke="#2b3a97"/><circle cx="400.7" cy="719.2" r="4.4" stroke="#3fbfe8"/><circle cx="340.0" cy="725.0" r="4.4" stroke="#f3e616"/><circle cx="342.3" cy="728.5" r="4.4" stroke="#b4d33a"/><circle cx="403.1" cy="736.7" r="4.4" stroke="#3fbfe8"/><circle cx="398.4" cy="742.0" r="4.4" stroke="#2a7dc6"/><circle cx="400.7" cy="744.9" r="4.4" stroke="#3fbfe8"/><circle cx="410.1" cy="743.1" r="4.4" stroke="#3fbfe8"/><circle cx="405.4" cy="741.4" r="4.4" stroke="#3fbfe8"/><circle cx="354.0" cy="743.7" r="4.4" stroke="#2b3a97"/><circle cx="352.8" cy="739.1" r="4.4" stroke="#82c66a"/><circle cx="367.4" cy="740.2" r="4.4" stroke="#62c3ad"/><circle cx="368.0" cy="748.4" r="4.4" stroke="#62c3ad"/><circle cx="366.3" cy="749.8" r="4.4" stroke="#82c66a"/><circle cx="345.8" cy="746.1" r="4.4" stroke="#b4d33a"/><circle cx="344.1" cy="755.4" r="4.4" stroke="#3fbfe8"/><circle cx="350.5" cy="756.6" r="4.4" stroke="#3fbfe8"/><circle cx="391.4" cy="753.1" r="4.4" stroke="#2b3a97"/><circle cx="394.9" cy="753.6" r="4.4" stroke="#2a7dc6"/><circle cx="398.4" cy="756.6" r="4.4" stroke="#2b3a97"/><circle cx="417.1" cy="758.9" r="4.4" stroke="#2a7dc6"/><circle cx="358.7" cy="755.4" r="4.4" stroke="#3fbfe8"/><circle cx="375.0" cy="758.9" r="4.4" stroke="#82c66a"/><circle cx="341.2" cy="753.1" r="4.4" stroke="#3fbfe8"/><circle cx="458.5" cy="693.5" r="4.4" stroke="#3fbfe8"/><circle cx="460.3" cy="697.6" r="4.4" stroke="#62c3ad"/><circle cx="467.3" cy="695.3" r="4.4" stroke="#82c66a"/><circle cx="477.2" cy="696.4" r="4.4" stroke="#3fbfe8"/><circle cx="471.4" cy="706.4" r="4.4" stroke="#82c66a"/><circle cx="498.2" cy="705.2" r="4.4" stroke="#3fbfe8"/><circle cx="491.8" cy="712.8" r="4.4" stroke="#62c3ad"/><circle cx="478.4" cy="715.1" r="4.4" stroke="#b4d33a"/><circle cx="490.7" cy="725.0" r="4.4" stroke="#f3e616"/><circle cx="448.0" cy="716.3" r="4.4" stroke="#b4d33a"/><circle cx="463.2" cy="716.9" r="4.4" stroke="#3fbfe8"/><circle cx="461.5" cy="720.4" r="4.4" stroke="#2a7dc6"/><circle cx="466.1" cy="719.2" r="4.4" stroke="#3fbfe8"/><circle cx="437.5" cy="719.2" r="4.4" stroke="#f47c20"/><circle cx="432.8" cy="723.3" r="4.4" stroke="#62c3ad"/><circle cx="441.0" cy="721.5" r="4.4" stroke="#b4d33a"/><circle cx="444.5" cy="723.9" r="4.4" stroke="#62c3ad"/><circle cx="446.9" cy="728.5" r="4.4" stroke="#2a7dc6"/><circle cx="424.7" cy="725.0" r="4.4" stroke="#2a7dc6"/><circle cx="422.9" cy="730.3" r="4.4" stroke="#2a7dc6"/><circle cx="430.5" cy="729.1" r="4.4" stroke="#3fbfe8"/><circle cx="455.0" cy="729.7" r="4.4" stroke="#82c66a"/><circle cx="453.9" cy="737.9" r="4.4" stroke="#b4d33a"/><circle cx="450.9" cy="739.1" r="4.4" stroke="#62c3ad"/><circle cx="441.6" cy="740.2" r="4.4" stroke="#2a7dc6"/><circle cx="469.1" cy="735.5" r="4.4" stroke="#3fbfe8"/><circle cx="471.4" cy="737.9" r="4.4" stroke="#2a7dc6"/><circle cx="476.1" cy="736.7" r="4.4" stroke="#b4d33a"/><circle cx="470.8" cy="742.0" r="4.4" stroke="#62c3ad"/><circle cx="495.3" cy="741.4" r="4.4" stroke="#3fbfe8"/><circle cx="453.9" cy="746.1" r="4.4" stroke="#3fbfe8"/><circle cx="453.3" cy="751.9" r="4.4" stroke="#2b3a97"/><circle cx="456.2" cy="753.1" r="4.4" stroke="#2a7dc6"/><circle cx="483.1" cy="751.9" r="4.4" stroke="#f47c20"/><circle cx="477.2" cy="751.9" r="4.4" stroke="#62c3ad"/><circle cx="471.4" cy="753.6" r="4.4" stroke="#62c3ad"/><circle cx="431.7" cy="757.2" r="4.4" stroke="#3fbfe8"/><circle cx="422.3" cy="758.9" r="4.4" stroke="#2a7dc6"/><circle cx="497.1" cy="755.4" r="4.4" stroke="#b4d33a"/><circle cx="469.1" cy="758.9" r="4.4" stroke="#f3e616"/><circle cx="522.8" cy="693.5" r="4.4" stroke="#b4d33a"/><circle cx="528.0" cy="692.3" r="4.4" stroke="#62c3ad"/><circle cx="535.0" cy="692.9" r="4.4" stroke="#3fbfe8"/><circle cx="538.5" cy="694.7" r="4.4" stroke="#2a7dc6"/><circle cx="540.9" cy="692.3" r="4.4" stroke="#3fbfe8"/><circle cx="553.7" cy="695.8" r="4.4" stroke="#b4d33a"/><circle cx="551.4" cy="691.2" r="4.4" stroke="#82c66a"/><circle cx="570.1" cy="691.2" r="4.4" stroke="#f3e616"/><circle cx="567.7" cy="701.1" r="4.4" stroke="#a01c20"/><circle cx="567.2" cy="701.8" r="4.4" stroke="#e21f26"/><circle cx="513.4" cy="705.8" r="4.4" stroke="#62c3ad"/><circle cx="519.3" cy="712.2" r="4.4" stroke="#f47c20"/><circle cx="529.8" cy="704.0" r="4.4" stroke="#3fbfe8"/><circle cx="531.5" cy="701.7" r="4.4" stroke="#62c3ad"/><circle cx="539.1" cy="700.5" r="4.4" stroke="#3fbfe8"/><circle cx="533.3" cy="711.6" r="4.4" stroke="#b4d33a"/><circle cx="535.0" cy="716.9" r="4.4" stroke="#3fbfe8"/><circle cx="531.5" cy="721.5" r="4.4" stroke="#3fbfe8"/><circle cx="544.4" cy="713.4" r="4.4" stroke="#3fbfe8"/><circle cx="551.4" cy="718.6" r="4.4" stroke="#3fbfe8"/><circle cx="506.4" cy="718.6" r="4.4" stroke="#b4d33a"/><circle cx="506.4" cy="726.2" r="4.4" stroke="#f3e616"/><circle cx="507.0" cy="734.4" r="4.4" stroke="#b4d33a"/><circle cx="505.8" cy="742.6" r="4.4" stroke="#b4d33a"/><circle cx="523.9" cy="728.5" r="4.4" stroke="#2b3a97"/><circle cx="525.1" cy="730.9" r="4.4" stroke="#2a7dc6"/><circle cx="522.8" cy="736.1" r="4.4" stroke="#2a7dc6"/><circle cx="533.9" cy="729.7" r="4.4" stroke="#3fbfe8"/><circle cx="553.7" cy="735.5" r="4.4" stroke="#f3e616"/><circle cx="549.1" cy="736.7" r="4.4" stroke="#b4d33a"/><circle cx="543.2" cy="740.2" r="4.4" stroke="#82c66a"/><circle cx="538.5" cy="737.9" r="4.4" stroke="#f3e616"/><circle cx="535.0" cy="739.1" r="4.4" stroke="#f3e616"/><circle cx="542.0" cy="743.7" r="4.4" stroke="#b4d33a"/><circle cx="546.1" cy="742.0" r="4.4" stroke="#82c66a"/><circle cx="521.6" cy="748.4" r="4.4" stroke="#a01c20"/><circle cx="521.0" cy="750.7" r="4.4" stroke="#a01c20"/><circle cx="520.4" cy="755.4" r="4.4" stroke="#e21f26"/><circle cx="528.0" cy="757.7" r="4.4" stroke="#e21f26"/><circle cx="532.7" cy="748.4" r="4.4" stroke="#f3e616"/><circle cx="554.9" cy="750.7" r="4.4" stroke="#f47c20"/><circle cx="550.2" cy="753.6" r="4.4" stroke="#f47c20"/><circle cx="540.3" cy="756.6" r="4.4" stroke="#e21f26"/><circle cx="547.9" cy="756.6" r="4.4" stroke="#e21f26"/><circle cx="502.9" cy="756.6" r="4.4" stroke="#f3e616"/><circle cx="515.2" cy="758.9" r="4.4" stroke="#e21f26"/><circle cx="500.0" cy="741.4" r="4.4" stroke="#62c3ad"/><circle cx="530.9" cy="769.9" r="4.4" stroke="#a01c20"/><circle cx="515.2" cy="763.5" r="4.4" stroke="#3fbfe8"/><circle cx="516.4" cy="769.9" r="4.4" stroke="#2a7dc6"/><circle cx="512.8" cy="763.5" r="4.4" stroke="#a01c20"/><circle cx="510.5" cy="762.3" r="4.4" stroke="#e21f26"/><circle cx="517.5" cy="775.2" r="4.4" stroke="#82c66a"/><circle cx="503.5" cy="775.2" r="4.4" stroke="#f47c20"/><circle cx="502.3" cy="779.9" r="4.4" stroke="#a01c20"/><circle cx="505.8" cy="779.9" r="4.4" stroke="#f47c20"/><circle cx="557.8" cy="779.9" r="4.4" stroke="#f47c20"/><circle cx="539.1" cy="788.0" r="4.4" stroke="#f3e616"/><circle cx="523.4" cy="788.0" r="4.4" stroke="#a01c20"/><circle cx="522.8" cy="789.3" r="4.4" stroke="#e21f26"/><circle cx="528.6" cy="796.2" r="4.4" stroke="#f47c20"/><circle cx="515.2" cy="791.5" r="4.4" stroke="#f47c20"/><circle cx="514.0" cy="794.5" r="4.4" stroke="#e21f26"/><circle cx="511.7" cy="789.2" r="4.4" stroke="#f47c20"/><circle cx="501.8" cy="797.4" r="4.4" stroke="#a01c20"/><circle cx="543.8" cy="809.6" r="4.4" stroke="#82c66a"/><circle cx="517.5" cy="807.9" r="4.4" stroke="#e21f26"/><circle cx="508.8" cy="812.0" r="4.4" stroke="#e21f26"/><circle cx="504.7" cy="819.6" r="4.4" stroke="#e21f26"/><circle cx="502.3" cy="824.2" r="4.4" stroke="#e21f26"/><circle cx="503.5" cy="789.2" r="4.4" stroke="#2a7dc6"/><circle cx="502.3" cy="764.7" r="4.4" stroke="#b4d33a"/><circle cx="507.0" cy="767.0" r="4.4" stroke="#f3e616"/><circle cx="420.0" cy="764.7" r="4.4" stroke="#3fbfe8"/><circle cx="432.3" cy="772.3" r="4.4" stroke="#2b3a97"/><circle cx="460.9" cy="771.1" r="4.4" stroke="#2a7dc6"/><circle cx="459.1" cy="778.1" r="4.4" stroke="#2a7dc6"/><circle cx="438.7" cy="788.6" r="4.4" stroke="#2b3a97"/><circle cx="441.0" cy="801.5" r="4.4" stroke="#2a7dc6"/><circle cx="427.6" cy="811.4" r="4.4" stroke="#2a7dc6"/><circle cx="471.4" cy="762.9" r="4.4" stroke="#f3e616"/><circle cx="473.7" cy="761.2" r="4.4" stroke="#82c66a"/><circle cx="495.9" cy="764.7" r="4.4" stroke="#62c3ad"/><circle cx="484.2" cy="771.7" r="4.4" stroke="#f3e616"/><circle cx="474.9" cy="784.5" r="4.4" stroke="#f47c20"/><circle cx="486.0" cy="785.1" r="4.4" stroke="#3fbfe8"/><circle cx="490.1" cy="785.1" r="4.4" stroke="#b4d33a"/><circle cx="494.2" cy="782.2" r="4.4" stroke="#b4d33a"/><circle cx="496.5" cy="779.9" r="4.4" stroke="#f47c20"/><circle cx="477.2" cy="795.0" r="4.4" stroke="#b4d33a"/><circle cx="487.7" cy="795.0" r="4.4" stroke="#a01c20"/><circle cx="492.4" cy="798.5" r="4.4" stroke="#a01c20"/><circle cx="497.1" cy="796.2" r="4.4" stroke="#a01c20"/><circle cx="484.8" cy="804.4" r="4.4" stroke="#a01c20"/><circle cx="490.1" cy="803.2" r="4.4" stroke="#a01c20"/><circle cx="494.7" cy="803.2" r="4.4" stroke="#a01c20"/><circle cx="476.6" cy="814.9" r="4.4" stroke="#a01c20"/><circle cx="460.9" cy="818.4" r="4.4" stroke="#62c3ad"/><circle cx="453.9" cy="828.9" r="4.4" stroke="#b4d33a"/><circle cx="494.7" cy="820.7" r="4.4" stroke="#e21f26"/><circle cx="496.5" cy="825.4" r="4.4" stroke="#e21f26"/><circle cx="342.3" cy="763.5" r="4.4" stroke="#3fbfe8"/><circle cx="354.0" cy="763.5" r="4.4" stroke="#3fbfe8"/><circle cx="364.5" cy="762.3" r="4.4" stroke="#3fbfe8"/><circle cx="356.4" cy="762.3" r="4.4" stroke="#3fbfe8"/><circle cx="375.6" cy="763.5" r="4.4" stroke="#62c3ad"/><circle cx="352.3" cy="771.7" r="4.4" stroke="#3fbfe8"/><circle cx="351.1" cy="781.0" r="4.4" stroke="#62c3ad"/><circle cx="351.7" cy="775.2" r="4.4" stroke="#3fbfe8"/><circle cx="397.8" cy="761.2" r="4.4" stroke="#2b3a97"/><circle cx="403.1" cy="768.8" r="4.4" stroke="#82c66a"/><circle cx="385.0" cy="780.4" r="4.4" stroke="#f3e616"/><circle cx="390.2" cy="776.9" r="4.4" stroke="#f3e616"/><circle cx="362.8" cy="790.9" r="4.4" stroke="#62c3ad"/><circle cx="342.3" cy="793.9" r="4.4" stroke="#2a7dc6"/><circle cx="373.9" cy="795.6" r="4.4" stroke="#82c66a"/><circle cx="387.9" cy="797.4" r="4.4" stroke="#b4d33a"/><circle cx="402.5" cy="789.2" r="4.4" stroke="#f3e616"/><circle cx="403.6" cy="793.9" r="4.4" stroke="#f47c20"/><circle cx="402.5" cy="799.1" r="4.4" stroke="#a01c20"/><circle cx="400.7" cy="800.3" r="4.4" stroke="#f3e616"/><circle cx="398.4" cy="803.8" r="4.4" stroke="#f3e616"/><circle cx="347.6" cy="805.0" r="4.4" stroke="#3fbfe8"/><circle cx="370.9" cy="805.0" r="4.4" stroke="#3fbfe8"/><circle cx="358.7" cy="809.1" r="4.4" stroke="#b4d33a"/><circle cx="383.8" cy="806.7" r="4.4" stroke="#b4d33a"/><circle cx="345.8" cy="814.3" r="4.4" stroke="#62c3ad"/><circle cx="369.2" cy="814.3" r="4.4" stroke="#f47c20"/><circle cx="389.1" cy="817.2" r="4.4" stroke="#2b3a97"/><circle cx="90.7" cy="612.5" r="4.4" stroke="#2b3a97"/><circle cx="89.9" cy="613.2" r="4.4" stroke="#f3e616"/><circle cx="109.9" cy="608.7" r="4.4" stroke="#a01c20"/><circle cx="109.4" cy="613.7" r="4.4" stroke="#a01c20"/><circle cx="101.1" cy="618.7" r="4.4" stroke="#a01c20"/><circle cx="103.6" cy="620.2" r="4.4" stroke="#a01c20"/><circle cx="76.2" cy="623.2" r="4.4" stroke="#2b3a97"/><circle cx="85.4" cy="629.9" r="4.4" stroke="#f3e616"/><circle cx="86.4" cy="631.4" r="4.4" stroke="#a01c20"/><circle cx="89.9" cy="643.2" r="4.4" stroke="#e21f26"/><circle cx="89.9" cy="650.7" r="4.4" stroke="#b4d33a"/><circle cx="123.1" cy="634.9" r="4.4" stroke="#b4d33a"/><circle cx="88.2" cy="666.6" r="4.4" stroke="#b4d33a"/><circle cx="59.5" cy="668.1" r="4.4" stroke="#f3e616"/><circle cx="63.0" cy="677.9" r="4.4" stroke="#3fbfe8"/><circle cx="61.7" cy="685.4" r="4.4" stroke="#a01c20"/><circle cx="72.9" cy="686.9" r="4.4" stroke="#f3e616"/><circle cx="78.2" cy="689.9" r="4.4" stroke="#f3e616"/><circle cx="48.0" cy="691.8" r="4.4" stroke="#2b3a97"/><circle cx="48.0" cy="703.6" r="4.4" stroke="#e21f26"/><circle cx="61.7" cy="708.6" r="4.4" stroke="#e21f26"/><circle cx="74.9" cy="723.5" r="4.4" stroke="#82c66a"/><circle cx="166.8" cy="616.7" r="4.4" stroke="#f47c20"/><circle cx="143.6" cy="626.7" r="4.4" stroke="#a01c20"/><circle cx="148.6" cy="637.4" r="4.4" stroke="#f3e616"/><circle cx="148.8" cy="638.9" r="4.4" stroke="#f47c20"/><circle cx="147.3" cy="641.7" r="4.4" stroke="#a01c20"/><circle cx="146.6" cy="649.9" r="4.4" stroke="#e21f26"/><circle cx="165.3" cy="639.9" r="4.4" stroke="#e21f26"/><circle cx="159.8" cy="664.9" r="4.4" stroke="#a01c20"/><circle cx="154.8" cy="676.6" r="4.4" stroke="#a01c20"/><circle cx="136.8" cy="683.6" r="4.4" stroke="#e21f26"/><circle cx="143.1" cy="686.9" r="4.4" stroke="#e21f26"/><circle cx="195.5" cy="663.6" r="4.4" stroke="#a01c20"/><circle cx="191.8" cy="670.4" r="4.4" stroke="#e21f26"/><circle cx="283.9" cy="644.9" r="4.4" stroke="#b4d33a"/><circle cx="332.1" cy="656.9" r="4.4" stroke="#b4d33a"/><circle cx="350.8" cy="653.7" r="4.4" stroke="#82c66a"/><circle cx="364.5" cy="675.4" r="4.4" stroke="#82c66a"/><circle cx="260.4" cy="669.9" r="4.4" stroke="#82c66a"/><circle cx="278.9" cy="675.4" r="4.4" stroke="#82c66a"/><circle cx="250.4" cy="686.9" r="4.4" stroke="#82c66a"/><circle cx="295.4" cy="688.6" r="4.4" stroke="#82c66a"/><circle cx="334.5" cy="690.3" r="4.4" stroke="#b4d33a"/><circle cx="207.2" cy="699.1" r="4.4" stroke="#a01c20"/><circle cx="267.2" cy="715.6" r="4.4" stroke="#82c66a"/><circle cx="413.6" cy="680.6" r="4.4" stroke="#f47c20"/><circle cx="599.6" cy="632.6" r="4.4" stroke="#f3e616"/><circle cx="598.0" cy="640.0" r="4.4" stroke="#3fbfe8"/><circle cx="591.0" cy="645.0" r="4.4" stroke="#b4d33a"/><circle cx="583.0" cy="647.0" r="4.4" stroke="#2a7dc6"/><circle cx="586.0" cy="651.0" r="4.4" stroke="#62c3ad"/><circle cx="563.0" cy="665.0" r="4.4" stroke="#f47c20"/><circle cx="573.0" cy="666.0" r="4.4" stroke="#f47c20"/><circle cx="572.6" cy="669.0" r="4.4" stroke="#62c3ad"/><circle cx="559.4" cy="671.6" r="4.4" stroke="#2b3a97"/><circle cx="576.0" cy="679.0" r="4.4" stroke="#b4d33a"/><circle cx="593.0" cy="684.0" r="4.4" stroke="#b4d33a"/><circle cx="574.0" cy="686.0" r="4.4" stroke="#b4d33a"/><circle cx="556.0" cy="684.0" r="4.4" stroke="#82c66a"/><circle cx="559.0" cy="686.0" r="4.4" stroke="#82c66a"/><circle cx="561.0" cy="683.0" r="4.4" stroke="#82c66a"/><circle cx="527.0" cy="686.0" r="4.4" stroke="#82c66a"/><circle cx="71.2" cy="731.2" r="4.4" stroke="#b4d33a"/><circle cx="69.4" cy="740.5" r="4.4" stroke="#3fbfe8"/><circle cx="88.7" cy="740.5" r="4.4" stroke="#b4d33a"/><circle cx="83.7" cy="745.0" r="4.4" stroke="#f3e616"/><circle cx="84.9" cy="750.0" r="4.4" stroke="#f3e616"/><circle cx="76.2" cy="758.7" r="4.4" stroke="#f3e616"/><circle cx="81.9" cy="775.4" r="4.4" stroke="#f47c20"/><circle cx="82.9" cy="776.4" r="4.4" stroke="#b4d33a"/><circle cx="64.4" cy="800.6" r="4.4" stroke="#b4d33a"/><circle cx="91.2" cy="815.6" r="4.4" stroke="#62c3ad"/><circle cx="175.3" cy="836.1" r="4.4" stroke="#62c3ad"/><circle cx="189.8" cy="737.5" r="4.4" stroke="#a01c20"/><circle cx="194.8" cy="737.5" r="4.4" stroke="#a01c20"/><circle cx="188.5" cy="847.3" r="4.4" stroke="#b4d33a"/><circle cx="213.7" cy="740.7" r="4.4" stroke="#b4d33a"/><circle cx="218.7" cy="764.2" r="4.4" stroke="#3fbfe8"/><circle cx="248.7" cy="804.1" r="4.4" stroke="#e21f26"/><circle cx="217.0" cy="812.4" r="4.4" stroke="#b4d33a"/><circle cx="244.9" cy="812.4" r="4.4" stroke="#b4d33a"/><circle cx="248.7" cy="817.4" r="4.4" stroke="#b4d33a"/><circle cx="198.7" cy="835.6" r="4.4" stroke="#b4d33a"/><circle cx="300.3" cy="750.5" r="4.4" stroke="#82c66a"/><circle cx="320.6" cy="746.2" r="4.4" stroke="#82c66a"/><circle cx="315.6" cy="766.9" r="4.4" stroke="#82c66a"/><circle cx="324.0" cy="765.4" r="4.4" stroke="#b4d33a"/><circle cx="322.8" cy="782.4" r="4.4" stroke="#f3e616"/><circle cx="328.5" cy="781.9" r="4.4" stroke="#b4d33a"/><circle cx="334.3" cy="783.2" r="4.4" stroke="#82c66a"/><circle cx="331.0" cy="797.4" r="4.4" stroke="#82c66a"/><circle cx="336.0" cy="807.4" r="4.4" stroke="#3fbfe8"/><circle cx="332.3" cy="753.7" r="4.4" stroke="#f3e616"/><circle cx="201.0" cy="848.7" r="4.4" stroke="#b4d33a"/><circle cx="308.8" cy="854.2" r="4.4" stroke="#b4d33a"/><circle cx="337.0" cy="854.2" r="4.4" stroke="#82c66a"/><circle cx="330.1" cy="870.7" r="4.4" stroke="#62c3ad"/><circle cx="315.8" cy="878.7" r="4.4" stroke="#b4d33a"/><circle cx="324.1" cy="880.7" r="4.4" stroke="#82c66a"/><circle cx="310.8" cy="886.9" r="4.4" stroke="#b4d33a"/><circle cx="303.3" cy="890.6" r="4.4" stroke="#b4d33a"/><circle cx="320.8" cy="898.6" r="4.4" stroke="#b4d33a"/><circle cx="325.8" cy="896.9" r="4.4" stroke="#82c66a"/><circle cx="329.6" cy="901.9" r="4.4" stroke="#b4d33a"/><circle cx="310.8" cy="915.6" r="4.4" stroke="#82c66a"/><circle cx="336.3" cy="920.6" r="4.4" stroke="#b4d33a"/><circle cx="367.0" cy="839.0" r="4.4" stroke="#82c66a"/><circle cx="394.0" cy="839.0" r="4.4" stroke="#f47c20"/><circle cx="367.0" cy="856.0" r="4.4" stroke="#b4d33a"/><circle cx="364.0" cy="857.0" r="4.4" stroke="#f3e616"/><circle cx="374.0" cy="857.0" r="4.4" stroke="#b4d33a"/><circle cx="356.0" cy="869.0" r="4.4" stroke="#b4d33a"/><circle cx="369.0" cy="880.0" r="4.4" stroke="#b4d33a"/><circle cx="389.0" cy="883.0" r="4.4" stroke="#a01c20"/><circle cx="387.0" cy="887.0" r="4.4" stroke="#e21f26"/><circle cx="412.0" cy="840.0" r="4.4" stroke="#2b3a97"/><circle cx="420.0" cy="849.0" r="4.4" stroke="#3fbfe8"/><circle cx="427.0" cy="849.0" r="4.4" stroke="#b4d33a"/><circle cx="437.0" cy="844.0" r="4.4" stroke="#3fbfe8"/><circle cx="412.0" cy="857.0" r="4.4" stroke="#b4d33a"/><circle cx="434.0" cy="856.0" r="4.4" stroke="#f47c20"/><circle cx="429.0" cy="865.0" r="4.4" stroke="#f47c20"/><circle cx="436.0" cy="871.0" r="4.4" stroke="#f47c20"/><circle cx="441.0" cy="872.0" r="4.4" stroke="#f3e616"/><circle cx="439.0" cy="879.0" r="4.4" stroke="#e21f26"/><circle cx="410.0" cy="883.0" r="4.4" stroke="#e21f26"/><circle cx="412.0" cy="885.0" r="4.4" stroke="#a01c20"/><circle cx="419.0" cy="883.0" r="4.4" stroke="#a01c20"/><circle cx="421.0" cy="886.0" r="4.4" stroke="#e21f26"/><circle cx="426.0" cy="880.0" r="4.4" stroke="#a01c20"/><circle cx="457.0" cy="872.0" r="4.4" stroke="#f47c20"/><circle cx="472.0" cy="839.0" r="4.4" stroke="#f47c20"/><circle cx="476.0" cy="840.0" r="4.4" stroke="#a01c20"/><circle cx="489.0" cy="841.0" r="4.4" stroke="#f47c20"/><circle cx="492.0" cy="847.0" r="4.4" stroke="#e21f26"/><circle cx="524.0" cy="842.0" r="4.4" stroke="#b4d33a"/><circle cx="521.0" cy="857.0" r="4.4" stroke="#82c66a"/><circle cx="474.0" cy="872.0" r="4.4" stroke="#f47c20"/><circle cx="492.0" cy="872.0" r="4.4" stroke="#f47c20"/><circle cx="534.0" cy="887.0" r="4.4" stroke="#a01c20"/><circle cx="532.0" cy="914.0" r="4.4" stroke="#f47c20"/><circle cx="544.0" cy="912.4" r="4.4" stroke="#e21f26"/></g>
<defs><linearGradient id="jet" x1="0" y1="0" x2="0" y2="1"><stop offset="0" stop-color="#80181a"/><stop offset="0.08" stop-color="#b5171c"/><stop offset="0.16" stop-color="#ed1c24"/><stop offset="0.25" stop-color="#f04e23"/><stop offset="0.31" stop-color="#f7941d"/><stop offset="0.355" stop-color="#fdc912"/><stop offset="0.39" stop-color="#f6ec13"/><stop offset="0.46" stop-color="#bfd730"/><stop offset="0.54" stop-color="#7dc242"/><stop offset="0.60" stop-color="#5fbf96"/><stop offset="0.665" stop-color="#3cc0e6"/><stop offset="0.72" stop-color="#2f9bd6"/><stop offset="0.78" stop-color="#2e6db4"/><stop offset="0.88" stop-color="#2e4a9e"/><stop offset="1" stop-color="#2b2f7e"/></linearGradient></defs>
<rect x="645.1" y="743.2" width="23.7" height="175.6" fill="url(#jet)" stroke="#3a3a3a" stroke-width="1.3"/>
<path d="M645.3 777.9h2.6M645.3 813.2h2.6M645.3 848.5h2.6M645.3 883.8h2.6" stroke="#3a3a3a" stroke-width="1"/>
<text x="583.8" y="748.7" font-size="21.2" textLength="54.0" lengthAdjust="spacingAndGlyphs">&gt;0.25</text>
<text x="597.8" y="784.0" font-size="21.2" textLength="40.0" lengthAdjust="spacingAndGlyphs">0.15</text>
<text x="597.8" y="819.2" font-size="21.2" textLength="40.0" lengthAdjust="spacingAndGlyphs">0.05</text>
<text x="584.7" y="854.5" font-size="21.2" textLength="53.1" lengthAdjust="spacingAndGlyphs">−0.05</text>
<text x="584.7" y="889.7" font-size="21.2" textLength="53.1" lengthAdjust="spacingAndGlyphs">−0.15</text>
<text x="570.9" y="925.0" font-size="21.2" textLength="66.9" lengthAdjust="spacingAndGlyphs">&lt;−0.25</text>
<text x="607.5" y="723.7" font-size="21.2" textLength="64" lengthAdjust="spacingAndGlyphs"><tspan font-style="italic">S</tspan><tspan font-size="15" dy="4.8">1</tspan><tspan dy="-4.8"> −</tspan><tspan font-style="italic">S</tspan><tspan font-size="15" dy="4.8">2</tspan></text>
</svg></body></html>
